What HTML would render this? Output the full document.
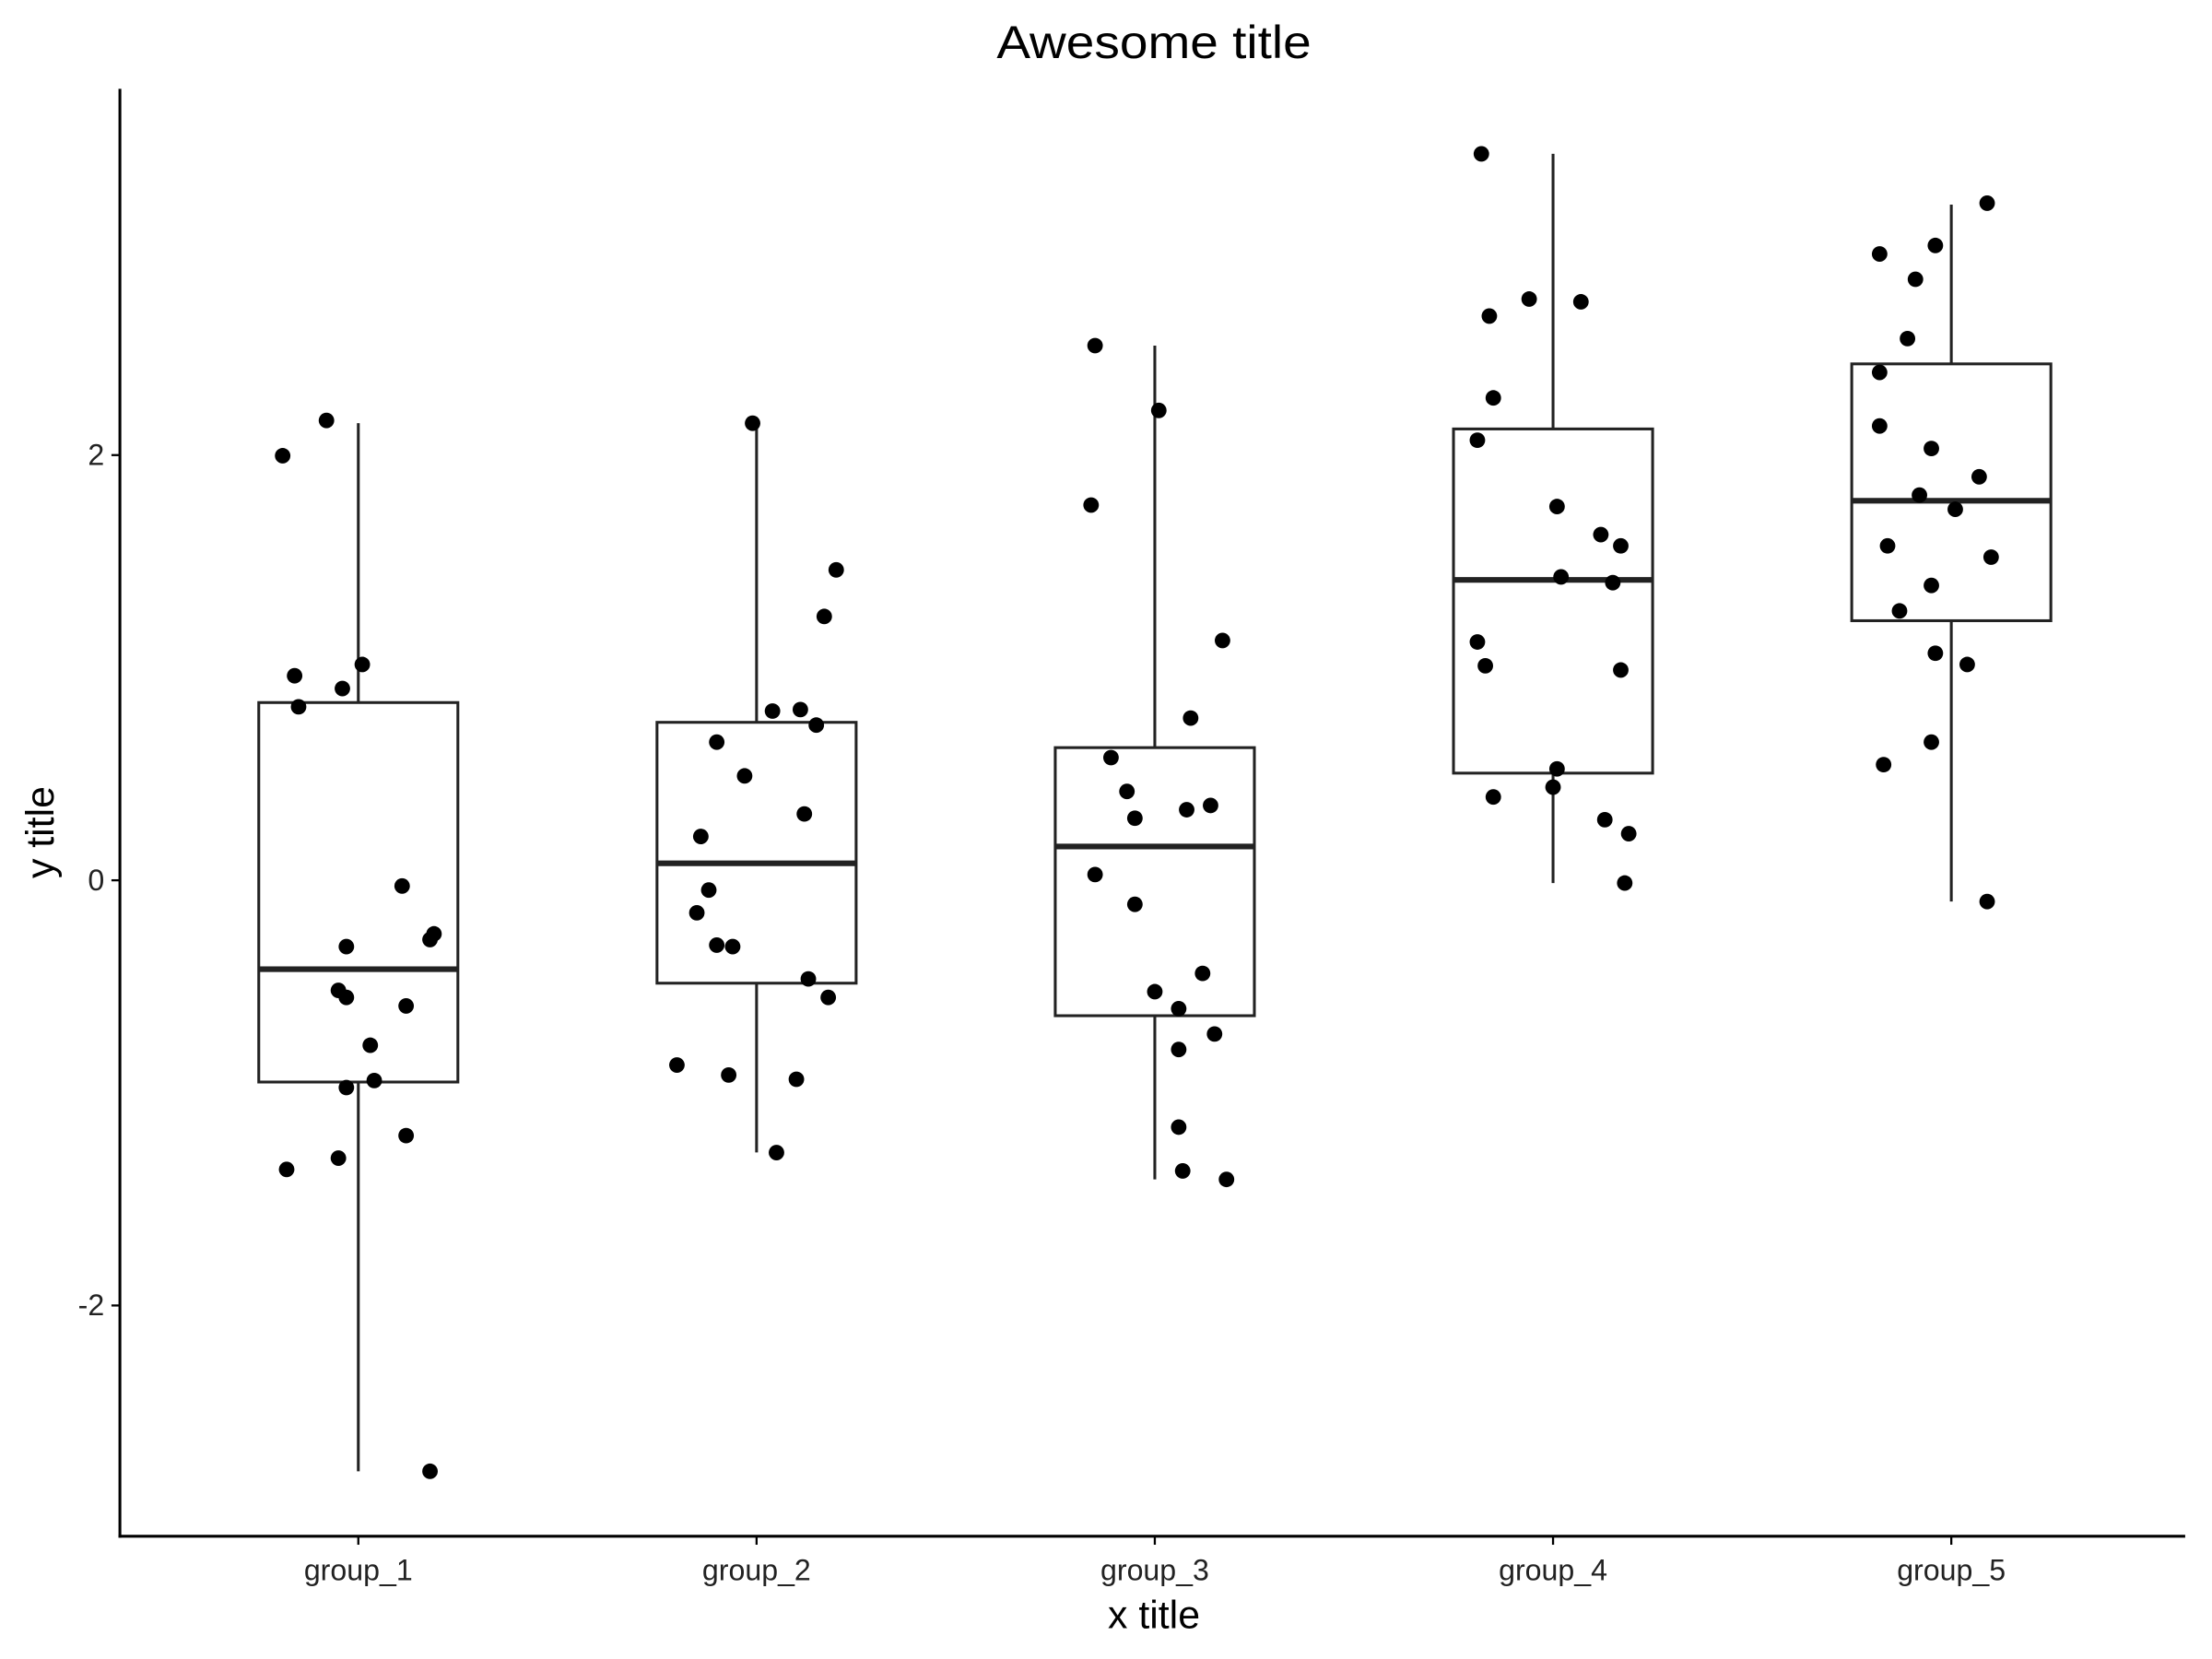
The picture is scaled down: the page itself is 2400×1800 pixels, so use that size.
<!DOCTYPE html>
<html><head><meta charset="utf-8"><style>
html,body{margin:0;padding:0;background:#fff;}
svg{display:block;font-family:"Liberation Sans",Arial,sans-serif;}
</style></head><body>
<svg id="chart" width="2400" height="1800" viewBox="0 0 1568 1176" xmlns="http://www.w3.org/2000/svg">
<rect width="1568" height="1176" fill="#fff"/>
<text x="818" y="41" font-size="33" text-anchor="middle" textLength="223" lengthAdjust="spacingAndGlyphs">Awesome title</text>
<g id="plot"></g>
<line x1="85" y1="63" x2="85" y2="1090" stroke="#000" stroke-width="2"/>
<line x1="84" y1="1089" x2="1549" y2="1089" stroke="#000" stroke-width="2"/>
<text x="818" y="1154" font-size="28" text-anchor="middle">x title</text>
<text transform="translate(38,590) rotate(-90)" font-size="28" text-anchor="middle">y title</text>
</svg>
<script>
const categories = ["group_1","group_2","group_3","group_4","group_5"];
const q1 = [-0.949,-0.484,-0.637,0.504,1.221];
const medians = [-0.418,0.08,0.159,1.413,1.785];
const q3 = [0.836,0.743,0.624,2.123,2.429];
const whiskerLow = [-2.78,-1.28,-1.407,-0.013,-0.10];
const whiskerHigh = [2.15,2.157,2.515,3.417,3.178];
const yTicks = [-2,0,2];
const pointValues = [
 [1.997,2.163,0.962,1.015,0.902,0.816,-0.027,-0.312,-0.252,-0.279,-0.518,-0.551,-0.591,-0.776,-0.975,-0.942,-1.360,-1.307,-1.201,-2.780],
 [2.150,1.460,1.241,0.796,0.803,0.730,0.650,0.491,0.312,0.206,-0.046,-0.153,-0.305,-0.312,-0.464,-0.551,-0.869,-0.916,-0.936,-1.281],
 [2.515,2.210,1.765,1.128,0.763,0.577,0.418,0.352,0.332,0.292,0.027,-0.113,-0.438,-0.524,-0.604,-0.723,-0.796,-1.161,-1.367,-1.407],
 [3.417,2.734,2.721,2.654,2.269,2.070,1.758,1.626,1.573,1.427,1.400,1.121,1.009,0.989,0.524,0.438,0.392,0.285,0.219,-0.013],
 [3.185,2.946,2.986,2.827,2.548,2.389,2.137,2.031,1.898,1.812,1.745,1.573,1.520,1.387,1.267,1.068,1.015,0.650,0.544,-0.100]
];
const pointJitter = [
 [-0.19,-0.08,-0.16,0.01,-0.04,-0.15,0.11,-0.03,0.19,0.18,-0.05,-0.03,0.12,0.03,-0.03,0.04,-0.18,-0.05,0.12,0.18],
 [-0.01,0.20,0.17,0.04,0.11,0.15,-0.10,-0.03,0.12,-0.14,-0.12,-0.15,-0.10,-0.06,0.13,0.18,-0.20,-0.07,0.10,0.05],
 [-0.15,0.01,-0.16,0.17,0.09,-0.11,-0.07,0.14,0.08,-0.05,-0.15,-0.05,0.12,0,0.06,0.15,0.06,0.06,0.07,0.18],
 [-0.18,-0.06,0.07,-0.16,-0.15,-0.19,0.01,0.12,0.17,0.02,0.15,-0.19,-0.17,0.17,0.01,0,-0.15,0.13,0.19,0.18],
 [0.09,-0.18,-0.04,-0.09,-0.11,-0.18,-0.18,-0.05,0.07,-0.08,0.01,-0.16,0.10,-0.05,-0.13,-0.04,0.04,-0.05,-0.17,0.09]
];
const NS="http://www.w3.org/2000/svg";
const g=document.getElementById('plot');
function xScale(i){return 254+i*282.3;}
function yScale(v){return 624-v*150.7;}
const bw=282.3;
function mk(tag,attrs){const e=document.createElementNS(NS,tag);for(const k in attrs)e.setAttribute(k,attrs[k]);g.appendChild(e);return e;}
yTicks.forEach(t=>{
 const y=yScale(t);
 const tk=mk('line',{x1:79,x2:85,y1:y,y2:y,stroke:'#000','stroke-width':1.5});
 
 
 const tl=mk('text',{x:74,y:y+7,'font-size':21,'text-anchor':'end',fill:'#222'});
 tl.textContent=String(t);
 
 
});
categories.forEach((c,i)=>{
 const x=xScale(i);
 const tk=mk('line',{x1:x,x2:x,y1:1089,y2:1095,stroke:'#000','stroke-width':1.5});
 
 
 const tl=mk('text',{x:x,y:1120,'font-size':21,'text-anchor':'middle',fill:'#222'});
 tl.textContent=c;
 
 
 const w1=mk('line',{x1:x,x2:x,y1:yScale(q3[i]),y2:yScale(whiskerHigh[i]),stroke:'#222','stroke-width':2});
 
 
 const w2=mk('line',{x1:x,x2:x,y1:yScale(q1[i]),y2:yScale(whiskerLow[i]),stroke:'#222','stroke-width':2});
 
 
 const hw=bw*0.25;
 const b=mk('rect',{x:x-hw,y:yScale(q3[i]),width:2*hw,height:yScale(q1[i])-yScale(q3[i]),fill:'#fff',stroke:'#222','stroke-width':2});
 
 
 const m=mk('line',{x1:x-hw,x2:x+hw,y1:yScale(medians[i]),y2:yScale(medians[i]),stroke:'#222','stroke-width':4});
 
 
});
pointValues.forEach((arr,i)=>{
 arr.forEach((v,j)=>{
  const p=mk('circle',{cx:xScale(i+pointJitter[i][j]),cy:yScale(v),r:5.5,fill:'#000'});
  
  
 });
});
</script>
</body></html>
